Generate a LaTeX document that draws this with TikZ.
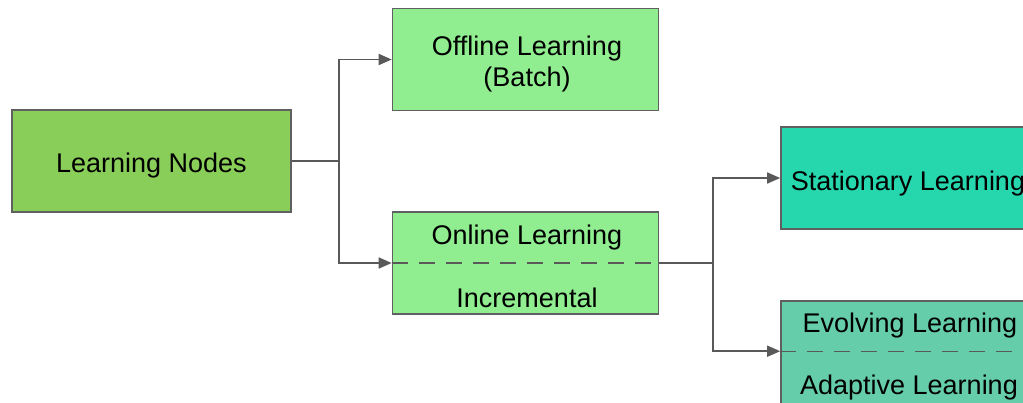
\documentclass[tikz,border=0pt]{standalone}
\usepackage{fontspec}
\setmainfont{Liberation Sans}
\usetikzlibrary{arrows.meta,calc}
\definecolor{rootgreen}{RGB}{138,206,90}
\definecolor{lightgreen}{RGB}{144,238,144}
\definecolor{teal1}{RGB}{38,215,174}
\definecolor{teal2}{RGB}{102,205,170}
\definecolor{edgegray}{RGB}{96,96,96}
\definecolor{linegray}{RGB}{89,89,89}
\tikzset{
  box/.style={draw=edgegray, line width=1.6pt, rectangle, inner sep=0pt,
    minimum width=#1, minimum height=102pt},
  box/.default=266pt,
  label text/.style={inner sep=0pt, anchor=base, font=\fontsize{27}{32}\selectfont},
  link/.style={draw=linegray, line width=1.6pt},
  arrowlink/.style={link, -{Triangle[length=13pt,width=11pt]}},
  divider/.style={draw=linegray, line width=1.3pt, dash pattern=on 16pt off 11pt}
}
\begin{document}
\begin{tikzpicture}[x=1pt, y=-1pt]
  \useasboundingbox (0,0) rectangle (1023,402);
  \clip (0,0) rectangle (1023,402);

  % boxes
  \node[box=279pt, fill=rootgreen] (root) at (151.5,161) {};
  \node[box, fill=lightgreen] (off) at (525.5,59.5) {};
  \node[box, fill=lightgreen] (on) at (525.5,263) {};
  \node[box=256pt, fill=teal1] (stat) at (909,178) {};
  \node[box=256pt, minimum height=120pt, fill=teal2] (evo) at (909,361) {};
  \coordinate (evoW) at ($(evo.north west)+(0,51)$);
  \coordinate (evoE) at ($(evo.north east)+(0,51)$);

  % texts
  \node[label text] (rootT) at (151.5,172) {Learning Nodes};
  \node[label text] (offA) at (527,55) {Offline Learning};
  \node[label text] (offB) at (527,86) {(Batch)};
  \node[label text] (onA) at (527,244) {Online Learning};
  \node[label text] (onB) at (527,307) {Incremental};
  \node[label text] (statT) at (908,190) {Stationary Learning};
  \node[label text] (evoA) at (910,332) {Evolving Learning};
  \node[label text] (evoB) at (909,394) {Adaptive Learning};

  % dashed dividers
  \draw[divider] (on.west) -- (on.east);
  \draw[divider] (evoW) -- (evoE);

  % branch points
  \coordinate (j1) at (339,161);
  \coordinate (j2) at (713,263);

  % connectors
  \draw[link] (root.east) -- (j1);
  \draw[arrowlink] (j1) |- (off.west);
  \draw[arrowlink] (j1) |- (on.west);
  \draw[link] (on.east) -- (j2);
  \draw[arrowlink] (j2) |- (stat.west);
  \draw[arrowlink] (j2) |- (evoW);
\end{tikzpicture}
\end{document}
